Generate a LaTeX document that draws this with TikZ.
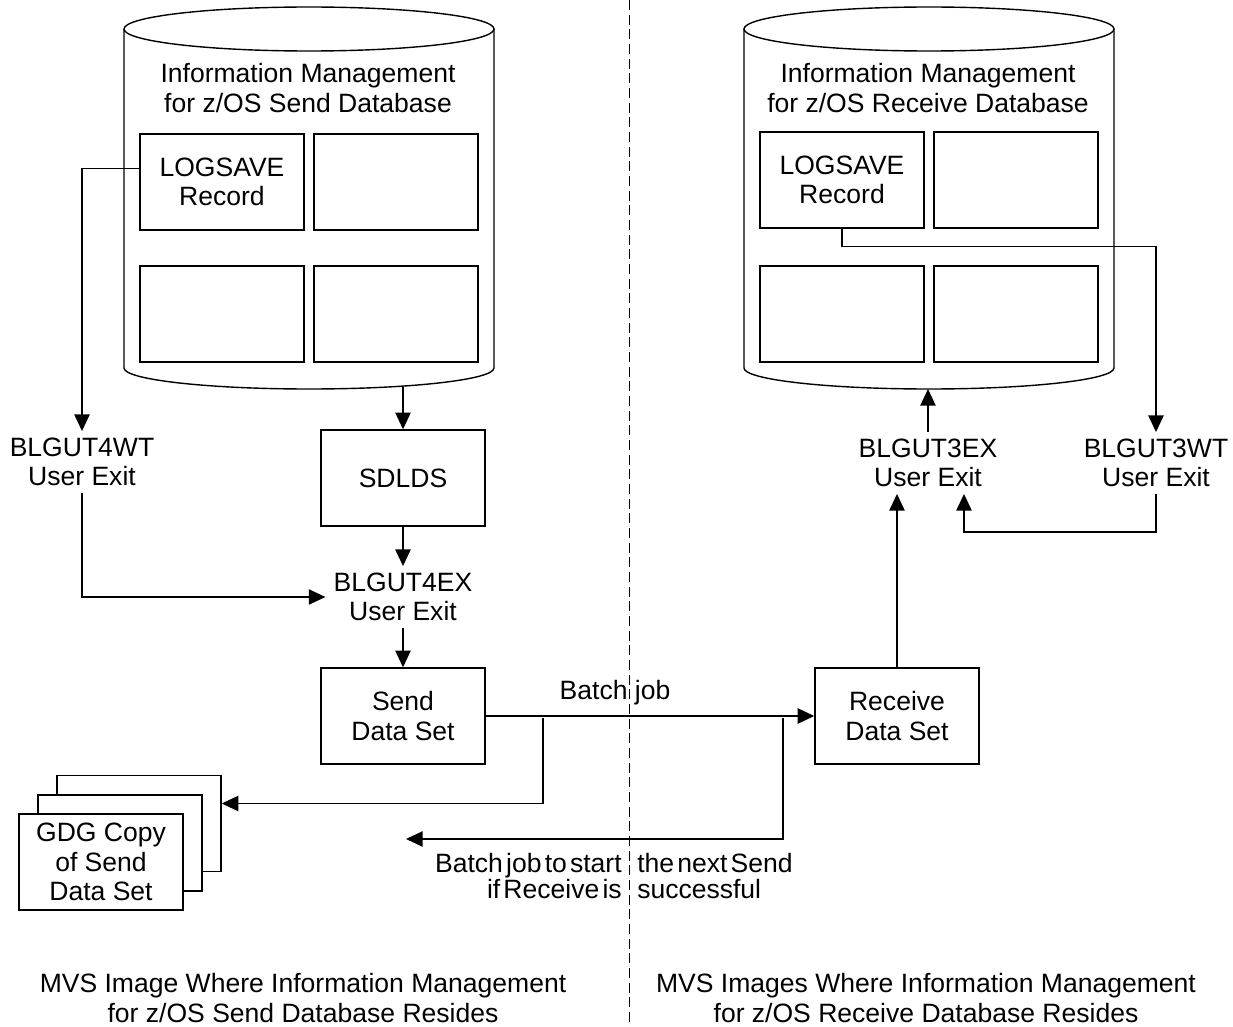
\documentclass[tikz,border=0pt]{standalone}
\usepackage{fontspec}
\setmainfont{Liberation Sans}
\usetikzlibrary{arrows.meta}
\newcommand{\tightfont}{\fontsize{19.9pt}{19.5pt}\selectfont\spaceskip=2.4pt\relax}
\begin{document}
\begin{tikzpicture}[x=0.75pt,y=-0.75pt,
  every node/.style={font=\fontsize{19.9pt}{21.9pt}\selectfont, align=center},
  ln/.style={line width=1.05pt, draw=black},
  arr/.style={ln, -{Triangle[length=12.5pt,width=11.5pt]}},
  box/.style={ln, rectangle, minimum width=123pt, minimum height=72pt, inner sep=0pt, fill=white},
  lbl/.style={inner xsep=6pt, inner ysep=5pt},
  tight/.style={inner sep=0pt, font=\tightfont},
]
\useasboundingbox (0,0) rectangle (1233,1027);

% divider
\draw[line width=0.75pt, dash pattern=on 7.5pt off 3.5pt] (629,0) -- (629,1027);

% send cylinder
\draw[ln] (124,29) -- (124,368) arc[start angle=180,end angle=360,x radius=138.75pt,y radius=15.75pt] -- (494,29);
\draw[ln] (309,29) ellipse [x radius=138.75pt, y radius=16.5pt];
\node (sendtitle) at (308,88) {Information Management\\for z/OS Send Database};
\node[box] (logL) at (222,182) {LOGSAVE\\Record};
\node[box] (bL2) at (396,182) {};
\node[box] (bL3) at (222,314) {};
\node[box] (bL4) at (396,314) {};
\coordinate (sendbot) at (403,386);

% receive cylinder
\draw[ln] (744,29) -- (744,368) arc[start angle=180,end angle=360,x radius=138.75pt,y radius=15.75pt] -- (1114,29);
\draw[ln] (929,29) ellipse [x radius=138.75pt, y radius=16.5pt];
\node (recvtitle) at (928,88) {Information Management\\for z/OS Receive Database};
\node[box] (logR) at (842,180) {LOGSAVE\\Record};
\node[box] (bR2) at (1016,180) {};
\node[box] (bR3) at (842,314) {};
\node[box] (bR4) at (1016,314) {};
\coordinate (recvbot) at (928,389);

% boxes
\node[box] (sdlds) at (403,478) {SDLDS};
\node[box] (send) at (403,716) {Send\\Data Set};
\node[box] (recv) at (897,716) {Receive\\Data Set};
\node[box] (gdg3) at (139,823.5) {};
\node[box] (gdg2) at (120,843) {};
\node[box] (gdg1) at (101,862) {GDG Copy\\of Send\\Data Set};

% labels
\node[lbl] (wt4) at (82,462) {BLGUT4WT\\User Exit};
\node[lbl] (ex4) at (403,597) {BLGUT4EX\\User Exit};
\node[lbl] (ex3) at (928,463) {BLGUT3EX\\User Exit};
\node[lbl] (wt3) at (1156,463) {BLGUT3WT\\User Exit};
\node (batch) at (615,693) {Batch job};
\node[tight, anchor=east, align=right] (retL) at (622,876) {Batch job to start\\if Receive is};
\node[tight, anchor=west, align=left] (retR) at (637,876) {the next Send\\successful};
\node (mvsL) at (303,998) {MVS Image Where Information Management\\for z/OS Send Database Resides};
\node (mvsR) at (926,998) {MVS Images Where Information Management\\for z/OS Receive Database Resides};

% connectors
\coordinate (split1) at (543,718);
\coordinate (split2) at (783,718);
\coordinate (retend) at (406,839);
\draw[arr] (sendbot) -- (sdlds.north);
\draw[arr] (sdlds.south) -- (ex4.north);
\draw[arr] (ex4.south) -- (send.north);
\draw[arr] ([yshift=10pt]logL.west) -| (wt4.north);
\draw[arr] (wt4.south) |- (ex4.west);
\draw[arr] (send.east) -- (recv.west);
\draw[arr] (split1) |- ([yshift=15pt]gdg3.east);
\draw[arr] (split2) |- (retend);
\draw[arr] (recv.north) -- (recv.north |- ex3.south);
\draw[arr] (ex3.north) -- (recvbot);
\draw[arr] (logR.south) -- ++(0,18) -| (wt3.north);
\draw[arr] (wt3.south) -- ++(0,38) -| ([xshift=27pt]ex3.south);
\end{tikzpicture}
\end{document}
